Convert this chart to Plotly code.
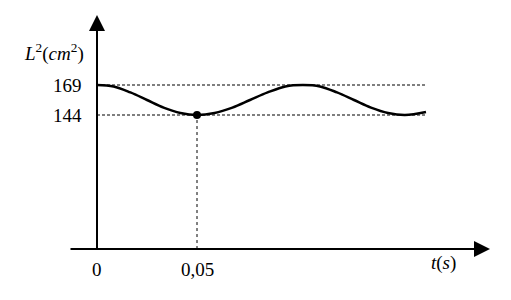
import plotly.graph_objects as go

# Data
t_values = [0, 0.0083, 0.0167, 0.025, 0.0333, 0.0417, 0.05,
            0.0588, 0.0677, 0.0765, 0.0853, 0.0942, 0.103,
            0.1115, 0.12, 0.1285, 0.137, 0.1455, 0.154, 0.1645]
L2_values = [169, 167.8, 162.8, 156.5, 150.2, 145.7, 144,
             145.7, 150.2, 156.5, 162.8, 167.8, 169,
             167.8, 162.8, 156.5, 150.2, 145.7, 144, 146.5]
L2_max = 169
L2_min = 144
t_mark = 0.05
x_tick_vals = [0, 0.05]
x_tick_text = ["0", "0,05"]
y_tick_vals = [169, 144]
y_tick_text = ["169", "144"]

# Layout constants (visual)
X_RANGE = [-0.0485, 0.207]
Y_RANGE = [-10.17, 239.83]
AXIS_Y = 32.3      # level where the horizontal t-axis is drawn
AXIS_X_START = -0.014
AXIS_X_END = 0.1965
AXIS_Y_TOP = 227.3
DASH_END = 0.1645
FONT = "Liberation Serif"

fig = go.Figure()

# dashed reference lines
for v in [L2_max, L2_min]:
    fig.add_trace(go.Scatter(x=[0, DASH_END], y=[v, v], mode="lines",
                             line=dict(color="#555555", width=1.3, dash="3px,2px"),
                             hoverinfo="skip", showlegend=False))
fig.add_trace(go.Scatter(x=[t_mark, t_mark], y=[AXIS_Y, L2_min], mode="lines",
                         line=dict(color="#000000", width=1, dash="3px,3px"),
                         hoverinfo="skip", showlegend=False))

# curve
fig.add_trace(go.Scatter(x=t_values, y=L2_values, mode="lines",
                         line=dict(color="#000000", width=2.5, shape="spline", smoothing=1.0),
                         showlegend=False))
# marked point
fig.add_trace(go.Scatter(x=[t_mark], y=[L2_min], mode="markers",
                         marker=dict(color="#000000", size=8), showlegend=False))

annotations = []
# axes with arrowheads
annotations.append(dict(x=AXIS_X_END, y=AXIS_Y, ax=AXIS_X_START, ay=AXIS_Y,
                        xref="x", yref="y", axref="x", ayref="y", text="",
                        showarrow=True, arrowhead=2, arrowsize=1.6, arrowwidth=2,
                        arrowcolor="#000000"))
annotations.append(dict(x=0, y=AXIS_Y_TOP, ax=0, ay=AXIS_Y - 1,
                        xref="x", yref="y", axref="x", ayref="y", text="",
                        showarrow=True, arrowhead=2, arrowsize=1.6, arrowwidth=2,
                        arrowcolor="#000000"))

for xv, xt in zip(x_tick_vals, x_tick_text):
    annotations.append(dict(x=xv, y=AXIS_Y, xref="x", yref="y", text=xt,
                            showarrow=False, yanchor="top", yshift=-8,
                            font=dict(family=FONT, size=19, color="#000000")))
for yv, yt in zip(y_tick_vals, y_tick_text):
    annotations.append(dict(x=0, y=yv, xref="x", yref="y", text=yt,
                            showarrow=False, xanchor="right", xshift=-13,
                            font=dict(family=FONT, size=19, color="#000000")))

annotations.append(dict(x=-0.0215, y=195.7, xref="x", yref="y",
                        text="<i>L</i><sup>2</sup>(<i>cm</i><sup>2</sup>)",
                        showarrow=False,
                        font=dict(family=FONT, size=19, color="#000000")))
annotations.append(dict(x=0.173, y=20.7, xref="x", yref="y",
                        text="<i>t</i>(<i>s</i>)", showarrow=False,
                        font=dict(family=FONT, size=19, color="#000000")))

fig.update_layout(
    width=511, height=300,
    margin=dict(l=0, r=0, t=0, b=0),
    paper_bgcolor="white", plot_bgcolor="white",
    xaxis=dict(range=X_RANGE, visible=False, fixedrange=True),
    yaxis=dict(range=Y_RANGE, visible=False, fixedrange=True),
    annotations=annotations,
    showlegend=False,
)

fig.write_html("out.html")
